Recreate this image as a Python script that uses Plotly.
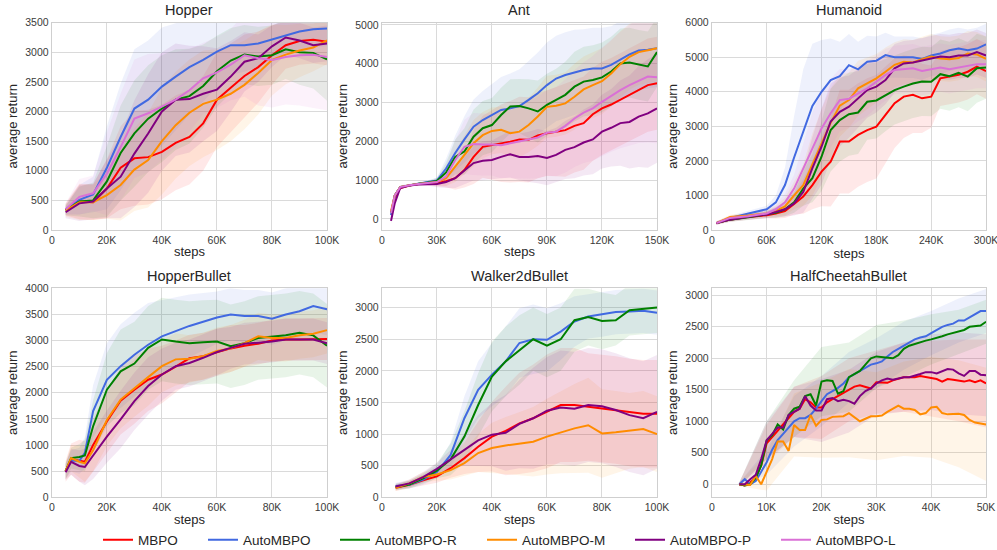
import plotly.graph_objects as go

# ---------------- data (steps in thousands) ----------------
SERIES = ["MBPO", "AutoMBPO", "AutoMBPO-R", "AutoMBPO-M", "AutoMBPO-P", "AutoMBPO-L"]

# Hopper
HOP_X = [5, 10, 15, 20, 25, 30, 35, 40, 45, 50, 55, 60, 65, 70, 75, 80, 85, 90, 95, 100]
HOP_MBPO = [350, 480, 470, 700, 1050, 1210, 1230, 1320, 1470, 1570, 1800, 2200, 2400, 2600, 2750, 2950, 3120, 3190, 3210, 3180]
HOP_AUTO = [350, 510, 600, 1050, 1570, 2050, 2200, 2420, 2590, 2750, 2870, 3010, 3120, 3120, 3150, 3220, 3290, 3350, 3390, 3400]
HOP_R = [330, 480, 500, 820, 1300, 1630, 1880, 2050, 2200, 2260, 2430, 2680, 2860, 2960, 2930, 2950, 3050, 3000, 2990, 2880]
HOP_M = [330, 470, 470, 590, 760, 1020, 1180, 1500, 1770, 1980, 2130, 2200, 2300, 2450, 2650, 2870, 2960, 3030, 3080, 3200]
HOP_P = [300, 450, 480, 700, 900, 1290, 1630, 2000, 2200, 2210, 2300, 2370, 2590, 2840, 2900, 3100, 3250, 3200, 3120, 3150]
HOP_L = [350, 560, 620, 950, 1400, 1880, 1970, 2080, 2200, 2360, 2560, 2660, 2790, 2950, 2900, 2870, 2920, 2950, 2960, 2920]
HOP_MBPO_SD = [100, 300, 300, 500, 700, 800, 800, 800, 800, 800, 800, 800, 750, 700, 600, 500, 400, 400, 400, 400]
HOP_AUTO_SD = [80, 250, 300, 700, 900, 1000, 1000, 1000, 900, 800, 700, 600, 500, 450, 400, 350, 300, 300, 300, 300]
HOP_R_SD = [80, 250, 300, 600, 800, 900, 900, 900, 850, 800, 700, 600, 550, 500, 500, 500, 500, 550, 600, 700]
HOP_M_SD = [100, 300, 300, 400, 600, 700, 800, 900, 900, 900, 900, 850, 800, 750, 700, 600, 500, 450, 400, 400]
HOP_P_SD = [100, 300, 300, 500, 700, 900, 1000, 1000, 950, 900, 800, 700, 600, 500, 400, 350, 300, 300, 300, 300]
HOP_L_SD = [100, 300, 300, 700, 900, 1000, 1000, 900, 800, 700, 600, 600, 600, 700, 800, 800, 800, 850, 900, 900]

# Ant
ANT_X = [5, 7, 10, 15, 20, 25, 30, 35, 40, 45, 50, 55, 60, 65, 70, 75, 80, 85, 90, 95, 100,
         105, 110, 115, 120, 125, 130, 135, 140, 145, 150]
ANT_MBPO = [150, 550, 800, 860, 900, 910, 920, 970, 1050, 1260, 1600, 1860, 1900, 1950, 1990, 2050, 2040, 2150, 2210, 2250, 2290,
            2400, 2470, 2700, 2850, 2950, 3070, 3200, 3330, 3450, 3500]
ANT_AUTO = [100, 600, 820, 870, 910, 950, 990, 1300, 1700, 2050, 2380, 2550, 2680, 2810, 2850, 2910, 3070, 3240, 3450, 3620, 3710,
            3780, 3840, 3880, 3880, 3970, 4100, 4240, 4340, 4360, 4400]
ANT_R = [150, 600, 820, 870, 910, 940, 980, 1200, 1600, 1740, 2120, 2340, 2420, 2680, 2900, 2910, 2850, 2770, 2940, 3070, 3200,
         3410, 3540, 3580, 3650, 3800, 4010, 4030, 3970, 3930, 4300]
ANT_M = [200, 600, 820, 870, 900, 920, 950, 1050, 1350, 1650, 1950, 2160, 2270, 2300, 2210, 2250, 2420, 2640, 2890, 2920, 2980,
         3150, 3340, 3450, 3550, 3750, 3990, 4180, 4300, 4350, 4400]
ANT_P = [-50, 400, 800, 860, 890, 900, 900, 950, 1050, 1250, 1440, 1500, 1520, 1600, 1670, 1600, 1600, 1620, 1570, 1650, 1780,
         1850, 1970, 2050, 2250, 2350, 2470, 2500, 2640, 2720, 2850]
ANT_L = [150, 600, 820, 870, 900, 920, 950, 1100, 1520, 1860, 1930, 1920, 1920, 1900, 1950, 2000, 2040, 2100, 2220, 2250, 2400,
         2590, 2740, 2850, 3020, 3180, 3320, 3450, 3560, 3670, 3650]
ANT_MBPO_SD = [80, 60, 40, 30, 30, 40, 80, 150, 300, 450, 700, 800, 900, 1000, 1050, 1100, 1100, 1100, 1100, 1150, 1200,
               1200, 1200, 1200, 1200, 1200, 1200, 1200, 1200, 1200, 1200]
ANT_AUTO_SD = [80, 60, 40, 30, 30, 40, 80, 250, 450, 600, 700, 750, 800, 850, 900, 950, 1000, 1050, 1100, 1100, 1100,
               1100, 1050, 1050, 1050, 1000, 1000, 1000, 1000, 1000, 1000]
ANT_R_SD = [80, 60, 40, 30, 30, 40, 80, 250, 450, 600, 700, 700, 700, 700, 700, 700, 750, 800, 800, 800, 850,
            900, 900, 900, 900, 900, 900, 900, 900, 900, 900]
ANT_M_SD = [80, 60, 40, 30, 30, 40, 80, 200, 400, 500, 600, 600, 600, 600, 600, 650, 700, 750, 800, 800, 800,
            850, 850, 850, 850, 850, 850, 850, 850, 850, 850]
ANT_P_SD = [80, 60, 40, 30, 30, 40, 80, 150, 250, 350, 450, 500, 500, 550, 600, 600, 650, 700, 700, 700, 750,
            800, 850, 900, 950, 1000, 1100, 1200, 1300, 1400, 1400]
ANT_L_SD = [80, 60, 40, 30, 30, 40, 100, 250, 500, 700, 800, 800, 800, 850, 900, 950, 1000, 1050, 1100, 1150, 1200,
            1250, 1300, 1350, 1400, 1450, 1500, 1550, 1600, 1700, 1700]

# Humanoid
HUM_X = [5, 20, 40, 60, 70, 80, 90, 100, 110, 120, 130, 140, 150, 160, 170, 180, 190, 200,
         210, 220, 230, 240, 250, 260, 270, 280, 290, 300]
HUM_MBPO = [200, 300, 380, 430, 480, 550, 750, 970, 1300, 1690, 1980, 2560, 2560, 2750, 2890, 2990, 3330, 3670,
            3860, 3910, 3810, 3860, 4390, 4440, 4490, 4580, 4730, 4600]
HUM_AUTO = [200, 350, 480, 600, 800, 1300, 2100, 2850, 3590, 4000, 4340, 4450, 4770, 4650, 4870, 4900, 5060, 5000,
            5000, 5000, 4950, 5050, 5110, 5200, 5250, 5200, 5250, 5370]
HUM_R = [200, 300, 370, 450, 500, 600, 800, 1200, 1500, 2120, 2890, 3180, 3350, 3400, 3710, 3750, 3910, 4050,
         4150, 4240, 4300, 4290, 4510, 4450, 4550, 4440, 4680, 4700]
HUM_M = [200, 380, 420, 480, 550, 680, 1000, 1300, 1900, 2500, 3100, 3600, 3760, 4100, 4240, 4390, 4580, 4780,
         4870, 4850, 4940, 5020, 4960, 4940, 4980, 5110, 5080, 4950]
HUM_P = [200, 300, 380, 450, 520, 600, 770, 1100, 1790, 2410, 3140, 3420, 3570, 3810, 4050, 4150, 4340, 4680,
         4820, 4850, 4900, 4950, 5020, 5000, 5050, 5050, 5150, 5050]
HUM_L = [200, 350, 400, 480, 600, 800, 1200, 1780, 2400, 2940, 3380, 3760, 3800, 3950, 4100, 4290, 4490, 4630,
         4650, 4680, 4600, 4650, 4700, 4650, 4700, 4750, 4800, 4800]
HUM_MBPO_SD = [50, 60, 80, 100, 150, 200, 300, 500, 700, 1000, 1300, 1500, 1500, 1500, 1500, 1500, 1400, 1300,
               1200, 1100, 1000, 900, 800, 800, 800, 800, 800, 800]
HUM_AUTO_SD = [50, 60, 80, 100, 200, 500, 1200, 1800, 1800, 1500, 1200, 1000, 900, 800, 750, 700, 650, 600,
               600, 600, 600, 600, 600, 600, 600, 600, 600, 600]
HUM_R_SD = [50, 60, 80, 100, 150, 200, 300, 500, 700, 1000, 1200, 1200, 1200, 1200, 1100, 1100, 1050, 1000,
            1000, 1000, 1000, 1000, 1000, 1000, 1000, 1000, 1000, 900]
HUM_M_SD = [50, 60, 80, 100, 150, 250, 400, 600, 900, 1000, 1000, 900, 800, 800, 750, 700, 700, 650,
            650, 650, 650, 650, 650, 650, 650, 650, 650, 650]
HUM_P_SD = [50, 60, 80, 100, 150, 200, 350, 600, 900, 1100, 1100, 1000, 900, 850, 800, 750, 700, 700,
            650, 650, 650, 650, 650, 650, 650, 650, 650, 650]
HUM_L_SD = [50, 60, 80, 100, 150, 250, 400, 700, 1000, 1100, 1000, 900, 850, 800, 800, 750, 750, 700,
            700, 700, 700, 700, 700, 700, 700, 700, 700, 700]

# HopperBullet
HB_X = [5, 7, 10, 12, 15, 20, 25, 30, 35, 40, 45, 50, 55, 60, 65, 70, 75, 80, 85, 90, 95, 100]
HB_MBPO = [500, 730, 700, 680, 1000, 1450, 1850, 2060, 2250, 2350, 2500, 2660, 2700, 2770, 2850, 2900, 2940, 3000, 3020, 3020, 3030, 3030]
HB_AUTO = [500, 700, 700, 850, 1650, 2250, 2510, 2730, 2920, 3080, 3180, 3280, 3360, 3440, 3500, 3470, 3470, 3420, 3500, 3560, 3660, 3600]
HB_R = [500, 750, 770, 800, 1360, 2060, 2410, 2560, 2860, 3020, 2980, 2950, 2970, 2980, 2890, 2950, 3050, 3080, 3100, 3150, 3100, 2900]
HB_M = [500, 750, 680, 650, 900, 1480, 1870, 2090, 2300, 2510, 2640, 2650, 2700, 2800, 2850, 2950, 3080, 3050, 3050, 3100, 3130, 3200]
HB_P = [480, 680, 600, 580, 800, 1160, 1490, 1840, 2130, 2350, 2510, 2570, 2670, 2780, 2860, 2940, 2960, 2980, 3020, 3020, 3020, 2950]
HB_MBPO_SD = [200, 300, 400, 400, 500, 600, 650, 650, 600, 550, 500, 450, 450, 450, 450, 400, 400, 400, 400, 400, 400, 400]
HB_AUTO_SD = [150, 200, 250, 300, 500, 700, 800, 800, 800, 700, 650, 600, 550, 500, 500, 500, 500, 500, 500, 500, 500, 500]
HB_R_SD = [150, 200, 250, 300, 500, 700, 800, 800, 800, 800, 800, 800, 800, 800, 800, 800, 800, 800, 800, 800, 800, 800]
HB_M_SD = [150, 250, 300, 350, 400, 500, 550, 550, 550, 500, 500, 450, 450, 450, 450, 450, 450, 450, 450, 450, 450, 450]
HB_P_SD = [150, 250, 300, 350, 450, 500, 550, 550, 550, 500, 450, 450, 450, 450, 400, 400, 400, 400, 400, 400, 400, 400]

# Walker2dBullet
WB_X = [5, 10, 15, 20, 25, 30, 35, 40, 45, 50, 55, 60, 65, 70, 75, 80, 85, 90, 95, 100]
WB_MBPO = [150, 200, 270, 330, 460, 620, 800, 960, 1050, 1170, 1250, 1360, 1460, 1460, 1430, 1410, 1380, 1340, 1320, 1320]
WB_AUTO = [180, 200, 280, 400, 670, 1250, 1700, 1940, 2150, 2440, 2500, 2490, 2620, 2780, 2860, 2890, 2930, 2940, 2950, 2920]
WB_R = [160, 200, 300, 420, 600, 960, 1460, 1910, 2150, 2330, 2500, 2400, 2500, 2800, 2850, 2790, 2800, 2960, 2980, 3000]
WB_M = [150, 220, 320, 360, 430, 540, 700, 780, 820, 850, 880, 960, 1030, 1090, 1140, 1010, 1030, 1050, 1080, 1000]
WB_P = [170, 220, 320, 450, 600, 750, 900, 990, 1020, 1160, 1250, 1370, 1420, 1400, 1460, 1440, 1380, 1300, 1250, 1350]
WB_MBPO_SD = [50, 60, 80, 100, 150, 250, 400, 550, 700, 800, 850, 900, 900, 900, 850, 850, 850, 850, 850, 850]
WB_AUTO_SD = [50, 60, 80, 100, 200, 350, 450, 500, 550, 550, 550, 500, 450, 400, 350, 350, 350, 350, 350, 350]
WB_R_SD = [50, 60, 80, 120, 250, 400, 500, 550, 550, 550, 500, 500, 500, 500, 450, 450, 400, 400, 400, 400]
WB_M_SD = [50, 60, 80, 100, 150, 200, 300, 400, 450, 500, 550, 600, 650, 700, 750, 700, 650, 600, 600, 600]
WB_P_SD = [50, 60, 80, 100, 150, 250, 400, 500, 600, 700, 800, 850, 900, 900, 900, 900, 900, 900, 900, 900]

# HalfCheetahBullet (lines every 1K, bands every 5K)
HC_X = list(range(5, 51))
HC_MBPO = [0, -20, 30, 100, 300, 650, 750, 850, 950, 1050, 1150, 1200, 1350, 1300, 1220, 1220, 1300, 1350, 1400, 1450,
           1500, 1550, 1570, 1550, 1520, 1620, 1620, 1610, 1650, 1680, 1700, 1700, 1700, 1720, 1700, 1680, 1670, 1630,
           1670, 1660, 1650, 1630, 1650, 1620, 1650, 1600]
HC_AUTO = [0, 80, 0, 50, 200, 350, 550, 700, 800, 900, 1000, 1050, 1050, 1100, 1200, 1320, 1430, 1480, 1530, 1600,
           1700, 1750, 1800, 1850, 1900, 1920, 1950, 2030, 2100, 2150, 2200, 2250, 2300, 2330, 2350, 2400, 2450, 2500,
           2530, 2550, 2600, 2600, 2650, 2700, 2750, 2750]
HC_R = [0, -20, 0, 100, 300, 700, 780, 950, 870, 1100, 1200, 1230, 1400, 1430, 1250, 1630, 1650, 1640, 1440, 1480,
        1700, 1750, 1800, 1900, 2000, 2030, 2020, 2000, 2000, 2050, 2150, 2200, 2230, 2250, 2280, 2300, 2320, 2350,
        2380, 2400, 2420, 2450, 2500, 2510, 2520, 2580]
HC_M = [0, -10, -10, 130, 0, 200, 400, 680, 680, 530, 940, 860, 860, 1100, 930, 1020, 1030, 1070, 1080, 1080,
        1130, 1060, 1000, 1040, 1080, 1080, 1090, 1150, 1200, 1250, 1200, 1200, 1180, 1110, 1130, 1220, 1230, 1130,
        1110, 1110, 1120, 1100, 1020, 980, 960, 950]
HC_P = [0, 0, 80, 150, 400, 700, 800, 900, 900, 1100, 1150, 1200, 1400, 1250, 1170, 1170, 1350, 1370, 1320, 1340,
        1320, 1280, 1400, 1480, 1520, 1600, 1650, 1680, 1660, 1680, 1700, 1700, 1720, 1750, 1780, 1780, 1760, 1800,
        1830, 1820, 1760, 1720, 1800, 1800, 1740, 1730]
HC_MBPO_SD = [30, 300, 400, 500, 500, 500, 550, 600, 650, 700]
HC_AUTO_SD = [30, 200, 400, 400, 400, 400, 380, 350, 350, 350]
HC_R_SD = [30, 300, 450, 550, 550, 500, 450, 400, 350, 350]
HC_M_SD = [30, 300, 500, 600, 700, 700, 750, 800, 850, 900]
HC_P_SD = [30, 300, 400, 500, 500, 500, 550, 600, 650, 650]

# tick labels
TICKS_100 = [0, 20, 40, 60, 80, 100]
TICKS_100_TXT = ["0", "20K", "40K", "60K", "80K", "100K"]
TICKS_150 = [0, 30, 60, 90, 120, 150]
TICKS_150_TXT = ["0", "30K", "60K", "90K", "120K", "150K"]
TICKS_300 = [0, 60, 120, 180, 240, 300]
TICKS_300_TXT = ["0", "60K", "120K", "180K", "240K", "300K"]
TICKS_50 = [0, 10, 20, 30, 40, 50]
TICKS_50_TXT = ["0", "10K", "20K", "30K", "40K", "50K"]

# ---------------- styling ----------------
COLORS = {"MBPO": (255, 0, 0), "AutoMBPO": (65, 105, 225), "AutoMBPO-R": (0, 128, 0),
          "AutoMBPO-M": (255, 140, 0), "AutoMBPO-P": (128, 0, 128), "AutoMBPO-L": (218, 112, 214)}
FONT = "Liberation Sans, Arial, sans-serif"
LEGEND_LINE_START_PX = [105, 210, 342, 489, 637, 783]

panels = [
    dict(title="Hopper", x=HOP_X, step=1,
         data=[HOP_MBPO, HOP_AUTO, HOP_R, HOP_M, HOP_P, HOP_L],
         sd=[HOP_MBPO_SD, HOP_AUTO_SD, HOP_R_SD, HOP_M_SD, HOP_P_SD, HOP_L_SD],
         xr=[0, 100], yr=[0, 3500], xt=TICKS_100, xtt=TICKS_100_TXT, dy=500),
    dict(title="Ant", x=ANT_X, step=1,
         data=[ANT_MBPO, ANT_AUTO, ANT_R, ANT_M, ANT_P, ANT_L],
         sd=[ANT_MBPO_SD, ANT_AUTO_SD, ANT_R_SD, ANT_M_SD, ANT_P_SD, ANT_L_SD],
         xr=[0, 150], yr=[-285, 5060], xt=TICKS_150, xtt=TICKS_150_TXT, dy=1000),
    dict(title="Humanoid", x=HUM_X, step=1,
         data=[HUM_MBPO, HUM_AUTO, HUM_R, HUM_M, HUM_P, HUM_L],
         sd=[HUM_MBPO_SD, HUM_AUTO_SD, HUM_R_SD, HUM_M_SD, HUM_P_SD, HUM_L_SD],
         xr=[0, 300], yr=[0, 6000], xt=TICKS_300, xtt=TICKS_300_TXT, dy=1000),
    dict(title="HopperBullet", x=HB_X, step=1,
         data=[HB_MBPO, HB_AUTO, HB_R, HB_M, HB_P],
         sd=[HB_MBPO_SD, HB_AUTO_SD, HB_R_SD, HB_M_SD, HB_P_SD],
         xr=[0, 100], yr=[0, 4000], xt=TICKS_100, xtt=TICKS_100_TXT, dy=500),
    dict(title="Walker2dBullet", x=WB_X, step=1,
         data=[WB_MBPO, WB_AUTO, WB_R, WB_M, WB_P],
         sd=[WB_MBPO_SD, WB_AUTO_SD, WB_R_SD, WB_M_SD, WB_P_SD],
         xr=[0, 100], yr=[0, 3305], xt=TICKS_100, xtt=TICKS_100_TXT, dy=500),
    dict(title="HalfCheetahBullet", x=HC_X, step=5,
         data=[HC_MBPO, HC_AUTO, HC_R, HC_M, HC_P],
         sd=[HC_MBPO_SD, HC_AUTO_SD, HC_R_SD, HC_M_SD, HC_P_SD],
         xr=[0, 50], yr=[-207, 3111], xt=TICKS_50, xtt=TICKS_50_TXT, dy=500),
]

XDOM = [[0.052, 0.328], [0.383, 0.659], [0.714, 0.989]]
YDOM = [[0.5818, 0.9588], [0.0958, 0.4758]]

fig = go.Figure()
layout = dict(
    width=997, height=550, margin=dict(l=0, r=0, t=0, b=0, autoexpand=False),
    paper_bgcolor="white", plot_bgcolor="white",
    font=dict(family=FONT, color="#333333"),
    showlegend=True,
    annotations=[],
)
for k, px in enumerate(LEGEND_LINE_START_PX):
    key = "legend" if k == 0 else f"legend{k + 1}"
    layout[key] = dict(orientation="h", x=(px - 7) / 997, xanchor="left", y=0.018, yanchor="middle",
                       font=dict(size=13.5, color="#262626"), bgcolor="rgba(0,0,0,0)",
                       borderwidth=0)

for i, p in enumerate(panels):
    r, c = divmod(i, 3)
    n = i + 1
    xa = "x" if n == 1 else f"x{n}"
    ya = "y" if n == 1 else f"y{n}"
    xs = p["x"]
    bx = xs[::p["step"]]
    # bands first
    for k, (mean, sd) in enumerate(zip(p["data"], p["sd"])):
        name = SERIES[k]
        rgb = COLORS[name]
        bm = mean[::p["step"]]
        up = [m + s for m, s in zip(bm, sd)]
        lo = [m - s for m, s in zip(bm, sd)]
        fig.add_trace(go.Scatter(
            x=bx + bx[::-1], y=up + lo[::-1], fill="toself",
            fillcolor=f"rgba({rgb[0]},{rgb[1]},{rgb[2]},0.09)",
            line=dict(width=0), mode="lines", hoverinfo="skip",
            showlegend=False, xaxis=xa, yaxis=ya))
    for k, mean in enumerate(p["data"]):
        name = SERIES[k]
        rgb = COLORS[name]
        fig.add_trace(go.Scatter(
            x=xs, y=mean, mode="lines", name=name, legendgroup=name,
            legend="legend" if k == 0 else f"legend{k + 1}",
            line=dict(color=f"rgb({rgb[0]},{rgb[1]},{rgb[2]})", width=2),
            showlegend=(i == 0), xaxis=xa, yaxis=ya))

    axis_common = dict(showgrid=True, gridcolor="#dadada", gridwidth=1.2,
                       showline=True, linecolor="#cfcfcf", linewidth=1.2, mirror=True,
                       zeroline=False, ticks="", automargin=False, ticklabeloverflow="allow",
                       tickfont=dict(size=10.5, color="#3a3a3a"))
    layout["xaxis" if n == 1 else f"xaxis{n}"] = dict(
        domain=XDOM[c], anchor=ya, range=p["xr"], tickmode="array",
        tickvals=p["xt"], ticktext=p["xtt"],
        title=dict(text="steps", font=dict(size=13, color="#262626"), standoff=2),
        **axis_common)
    layout["yaxis" if n == 1 else f"yaxis{n}"] = dict(
        domain=YDOM[r], anchor=xa, range=p["yr"], dtick=p["dy"], tick0=0,
        title=dict(text="average return", font=dict(size=13, color="#262626"), standoff=4),
        **axis_common)
    layout["annotations"].append(dict(
        text=p["title"], x=sum(XDOM[c]) / 2, xref="paper", xanchor="center",
        y=YDOM[r][1] + 0.005, yref="paper", yanchor="bottom", showarrow=False,
        font=dict(size=14.5, color="#262626")))

fig.update_layout(**layout)
fig.write_html("out.html", config={"displayModeBar": False},
               post_script="document.body.style.margin='0';document.body.style.padding='0';"
                           "document.body.style.overflow='hidden';")
